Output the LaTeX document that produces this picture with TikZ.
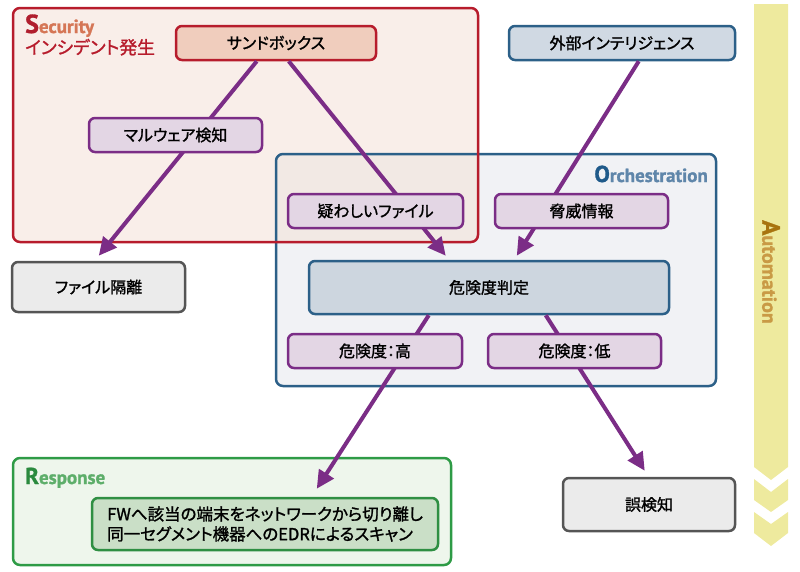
\documentclass[tikz,border=0pt]{standalone}
\usepackage{fontspec}
\setmainfont{Noto Sans CJK JP}[FakeBold=1.4, RawFeature=+palt]
\newfontfamily\labfont{PT Sans}[BoldFeatures={FakeBold=1.2}]
\usetikzlibrary{arrows.meta,calc}
\definecolor{pur}{HTML}{7B2D86}
\definecolor{purfill}{HTML}{E3D6E4}
\definecolor{secred}{HTML}{B71C2C}
\definecolor{secfill}{HTML}{F9EEE9}
\definecolor{sandfill}{HTML}{F0CDBD}
\definecolor{secS}{HTML}{B01E2E}
\definecolor{secrest}{HTML}{D57656}
\definecolor{orchblue}{HTML}{2C6088}
\definecolor{orchfill}{HTML}{F1F2F5}
\definecolor{overlapfill}{HTML}{F2E9E4}
\definecolor{extfill}{HTML}{D0D9E3}
\definecolor{judgefill}{HTML}{CDD6DF}
\definecolor{orchO}{HTML}{1F5A8A}
\definecolor{orchrest}{HTML}{5F86AA}
\definecolor{graybd}{HTML}{555555}
\definecolor{grayfill}{HTML}{EBEBEB}
\definecolor{respgreen}{HTML}{2E9B46}
\definecolor{respfill}{HTML}{EEF6EC}
\definecolor{innerfill}{HTML}{CADFC7}
\definecolor{innergreen}{HTML}{2F8F43}
\definecolor{respR}{HTML}{2A8A3E}
\definecolor{resprest}{HTML}{5DAE6A}
\definecolor{autofill}{HTML}{EEEA9E}
\definecolor{autoA}{HTML}{A8740F}
\definecolor{autorest}{HTML}{C99A45}
\begin{document}
\begin{tikzpicture}[x=1pt,y=-1pt,
  box/.style={draw, rounded corners=6pt, line width=2.5pt, inner sep=0pt,
    font=\fontsize{16}{19}\selectfont, text=black},
  pbox/.style={box, draw=pur, fill=purfill},
  gbox/.style={box, draw=graybd, fill=grayfill},
  bbox/.style={box, draw=orchblue},
  container/.style={rounded corners=7pt, line width=2.5pt, inner sep=0pt},
  arr/.style={draw=pur, line width=4pt, -{Triangle[length=18pt,width=17pt]}}
]
\useasboundingbox (0,0) rectangle (800,571);

% Automation band
\fill[autofill] (754,4) -- (788,4) -- (788,467) -- (771,480) -- (754,467) -- cycle;
\fill[autofill] (754,479) -- (771,492) -- (788,479) -- (788,500) -- (771,512) -- (754,500) -- cycle;
\fill[autofill] (754,512) -- (771,524) -- (788,512) -- (788,533) -- (771,546) -- (754,533) -- cycle;
\node[rotate=-90, inner sep=0pt, font=\labfont\bfseries] (autolabel) at (771,272)
  {\textcolor{autoA}{\fontsize{25}{25}\selectfont A}\textcolor{autorest}{\fontsize{20}{20}\selectfont utomation}};

% containers: fills
\node[container, fill=secfill, minimum width=465pt, minimum height=234pt] (security) at (245.5,125) {};
\node[container, fill=orchfill, minimum width=440pt, minimum height=232pt] (orch) at (496,270) {};
\begin{scope}
  \clip[rounded corners=7pt] (13,8) rectangle (478,242);
  \fill[overlapfill, rounded corners=7pt] (276,154) rectangle (716,386);
\end{scope}
\node[container, fill=respfill, draw=respgreen, minimum width=438pt, minimum height=107pt] (response) at (232,511.5) {};
% container borders
\draw[orchblue, line width=2.5pt, rounded corners=7pt] (276,154) rectangle (716,386);
\draw[secred, line width=2.5pt, rounded corners=7pt] (13,8) rectangle (478,242);

% container labels
\node[anchor=base west, inner sep=0pt, font=\labfont\bfseries] (seclabel) at (25,33)
  {\textcolor{secS}{\fontsize{26}{26}\selectfont S}\textcolor{secrest}{\fontsize{19}{19}\selectfont ecurity}};
\node[anchor=base west, inner sep=0pt, text=secred, font=\fontsize{17.8}{19}\selectfont] (incident) at (25,54) {インシデント発生};
\node[anchor=base east, inner sep=0pt, font=\labfont\bfseries] (orchlabel) at (708,182)
  {\textcolor{orchO}{\fontsize{23}{23}\selectfont O}\textcolor{orchrest}{\fontsize{19}{19}\selectfont rchestration}};
\node[anchor=base west, inner sep=0pt, font=\labfont\bfseries] (resplabel) at (25,484)
  {\textcolor{respR}{\fontsize{23}{23}\selectfont R}\textcolor{resprest}{\fontsize{19}{19}\selectfont esponse}};

% boxes (positions)
\path
  (276,43) node[box, draw=secred, fill=sandfill, minimum width=200pt, minimum height=34pt] (sandbox) {サンドボックス}
  (622,43) node[bbox, fill=extfill, minimum width=226pt, minimum height=34pt] (external) {外部インテリジェンス}
  (98.5,287) node[gbox, minimum width=173pt, minimum height=50pt] (isolate) {ファイル隔離}
  (489,287.5) node[bbox, fill=judgefill, minimum width=360pt, minimum height=53pt] (judge) {危険度判定}
  (649,504.5) node[gbox, minimum width=172pt, minimum height=53pt] (fp) {誤検知}
  (265,524) node[box, draw=innergreen, fill=innerfill, minimum width=346pt, minimum height=52pt] (respinner) {};

% arrows
\draw[arr] ($(sandbox.south west)+(82,0)$) -- ($(isolate.north west)+(88,-5)$);
\draw[arr] ($(sandbox.south west)+(114,0)$) -- ($(judge.north west)+(138,-4)$);
\draw[arr] ($(external.south west)+(131,0)$) -- ($(judge.north west)+(209,-4)$);
\draw[arr] ($(judge.south west)+(121,0)$) -- ($(respinner.north west)+(226,-8)$);
\draw[arr] ($(judge.south west)+(238,0)$) -- ($(fp.north west)+(83,-6)$);

% label boxes on top of arrows
\path
  (175.5,135) node[pbox, minimum width=173pt, minimum height=34pt] (malware) {マルウェア検知}
  (375.5,211) node[pbox, minimum width=175pt, minimum height=34pt] (susp) {疑わしいファイル}
  (581.5,211) node[pbox, minimum width=173pt, minimum height=34pt] (threat) {脅威情報}
  (375,351) node[pbox, minimum width=174pt, minimum height=34pt] (high) {危険度：高}
  (574.5,351) node[pbox, minimum width=173pt, minimum height=34pt] (low) {危険度：低};

\node[anchor=west, align=left, inner sep=0pt, font=\fontsize{16.5}{20}\selectfont] (resptext) at (107,524)
  {FWへ該当の端末をネットワークから切り離し\\同一セグメント機器へのEDRによるスキャン};
\end{tikzpicture}
\end{document}
